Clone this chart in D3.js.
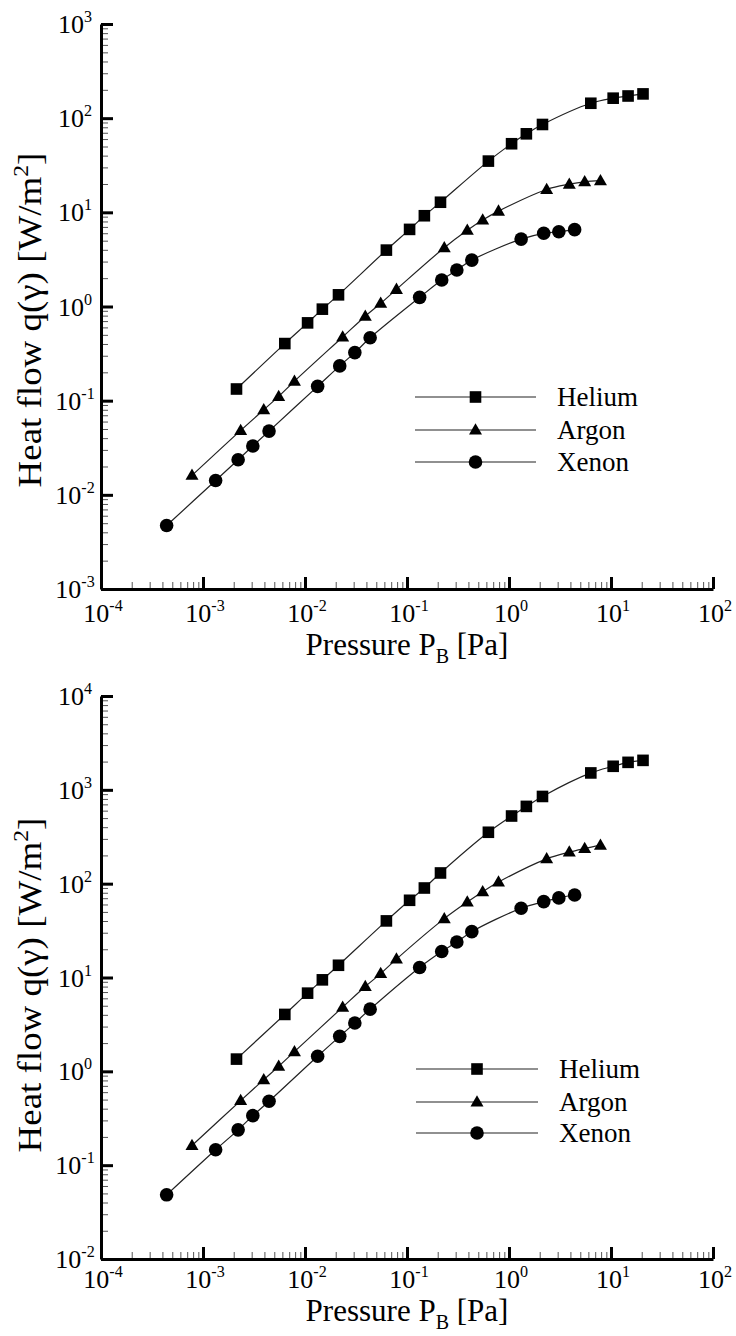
<!DOCTYPE html>
<html>
<head>
<meta charset="utf-8">
<script src="https://cdn.jsdelivr.net/npm/d3@7"></script>
<style>
  html, body { margin: 0; padding: 0; background: #fff; }
  svg { display: block; }
</style>
</head>
<body>
<svg id="chart" width="736" height="1336"></svg>
<script>
// Backing pressure P_B [Pa] for each gas
const pressureHelium = [0.00213, 0.00634, 0.0106, 0.0148, 0.0213, 0.0628, 0.106, 0.148, 0.213, 0.628, 1.06, 1.48, 2.13, 6.34, 10.5, 14.7, 20.6];
const pressureArgon  = [0.00078, 0.00234, 0.00394, 0.00552, 0.00788, 0.0234, 0.039, 0.0552, 0.0788, 0.232, 0.39, 0.552, 0.789, 2.34, 3.90, 5.52, 7.88];
const pressureXenon  = [0.00044, 0.00133, 0.00221, 0.00308, 0.00444, 0.0133, 0.0219, 0.0308, 0.0435, 0.133, 0.219, 0.308, 0.432, 1.315, 2.19, 3.08, 4.40];

// Heat flow q(γ) [W/m²], upper panel
const heliumUpper = [0.133, 0.404, 0.67, 0.937, 1.33, 3.97, 6.59, 9.2, 12.8, 35.0, 53.5, 68.2, 85.7, 144, 163, 172, 181];
const argonUpper  = [0.0161, 0.0483, 0.080, 0.111, 0.161, 0.475, 0.789, 1.08, 1.52, 4.21, 6.44, 8.28, 10.3, 17.5, 19.9, 21.1, 21.7];
const xenonUpper  = [0.00472, 0.0142, 0.0236, 0.033, 0.0475, 0.142, 0.234, 0.324, 0.465, 1.25, 1.91, 2.44, 3.11, 5.2, 5.99, 6.22, 6.55];

// Heat flow q(γ) [W/m²], lower panel
const heliumLower = [1.35, 4.04, 6.81, 9.44, 13.5, 40.1, 66.5, 89.9, 130, 353, 526, 666, 850, 1514, 1782, 1963, 2061];
const argonLower  = [0.162, 0.488, 0.815, 1.13, 1.62, 4.83, 8.02, 11.0, 15.7, 42.4, 63.8, 82.2, 104, 184, 217, 237, 257];
const xenonLower  = [0.0483, 0.146, 0.238, 0.337, 0.480, 1.45, 2.36, 3.27, 4.60, 12.8, 18.9, 23.9, 30.8, 54.7, 64.4, 70.5, 75.7];

const gasNames = ["Helium", "Argon", "Xenon"];
const gasMarkers = ["square", "triangle", "circle"];

// Tick exponents (labels are drawn as 10^n)
const xTickExponents = [-4, -3, -2, -1, 0, 1, 2];
const yTickExponentsUpper = [-3, -2, -1, 0, 1, 2, 3];
const yTickExponentsLower = [-2, -1, 0, 1, 2, 3, 4];

const xAxisTitle = "Pressure P";
const xAxisTitleSub = "B";
const xAxisTitleTail = " [Pa]";
const yAxisTitle = "Heat flow q(γ) [W/m";
const yAxisTitleSup = "2";
const yAxisTitleTail = "]";

const SERIF = "'Liberation Serif', 'DejaVu Serif', serif";

const svg = d3.select("#chart").attr("font-family", SERIF);

const panels = [
  {
    yExp: yTickExponentsUpper, yTop: 24, yBottom: 589,
    series: [heliumUpper, argonUpper, xenonUpper],
    tickLabelDy: 33, titleDy: 66, yTitleCenter: 320,
    legend: { x0: 415, x1: 536, rows: [397, 430, 462], textX: 557 }
  },
  {
    yExp: yTickExponentsLower, yTop: 696, yBottom: 1259,
    series: [heliumLower, argonLower, xenonLower],
    tickLabelDy: 29, titleDy: 62, yTitleCenter: 985,
    legend: { x0: 416, x1: 538, rows: [1069, 1102, 1133], textX: 559 }
  }
];
const pressures = [pressureHelium, pressureArgon, pressureXenon];

function minorValues(expMin, expMax) {
  const out = [];
  for (let e = expMin; e < expMax; e++) {
    for (let k = 2; k <= 9; k++) out.push(k * Math.pow(10, e));
  }
  return out;
}

function drawMarker(g, type, x, y) {
  if (type === "square") {
    g.append("rect").attr("x", x - 5.8).attr("y", y - 5.8)
      .attr("width", 11.6).attr("height", 11.6).attr("fill", "#000");
  } else if (type === "triangle") {
    const s = 13, h = s * Math.sqrt(3) / 2;
    g.append("path")
      .attr("d", `M${x},${y - h * 0.6}L${x + s / 2},${y + h * 0.4}L${x - s / 2},${y + h * 0.4}Z`)
      .attr("fill", "#000");
  } else {
    g.append("circle").attr("cx", x).attr("cy", y).attr("r", 6.8).attr("fill", "#000");
  }
}

function sciLabel(sel, exp, fontSize) {
  sel.append("tspan").text("10");
  sel.append("tspan").attr("dy", -fontSize * 0.42).attr("font-size", fontSize * 0.62).text(String(exp));
}

function addText(g) {
  return g.append("text").attr("font-family", SERIF).attr("fill", "#000");
}

const TICK_FONT = 26;

panels.forEach(p => {
  const x = d3.scaleLog().domain([1e-4, 1e2]).range([101, 713]);
  const y = d3.scaleLog()
    .domain([Math.pow(10, p.yExp[0]), Math.pow(10, p.yExp[p.yExp.length - 1])])
    .range([p.yBottom, p.yTop]);

  const g = svg.append("g");

  // minor ticks
  g.append("g").attr("transform", `translate(0,${p.yBottom})`)
    .call(d3.axisBottom(x).tickValues(minorValues(-4, 2)).tickSize(-7).tickSizeOuter(0).tickFormat(""))
    .call(a => a.select(".domain").remove())
    .call(a => a.selectAll("line").attr("stroke", "#555").attr("stroke-width", 1));
  g.append("g").attr("transform", "translate(101,0)")
    .call(d3.axisLeft(y).tickValues(minorValues(p.yExp[0], p.yExp[p.yExp.length - 1])).tickSize(-7).tickSizeOuter(0).tickFormat(""))
    .call(a => a.select(".domain").remove())
    .call(a => a.selectAll("line").attr("stroke", "#555").attr("stroke-width", 1));

  // major ticks and axis lines
  g.append("g").attr("transform", `translate(0,${p.yBottom})`)
    .call(d3.axisBottom(x).tickValues(xTickExponents.map(e => Math.pow(10, e))).tickSize(-12).tickSizeOuter(0).tickFormat(""))
    .call(a => a.select(".domain").attr("stroke", "#000").attr("stroke-width", 3))
    .call(a => a.selectAll("line").attr("stroke", "#000").attr("stroke-width", 3));
  g.append("g").attr("transform", "translate(101,0)")
    .call(d3.axisLeft(y).tickValues(p.yExp.map(e => Math.pow(10, e))).tickSize(-12).tickSizeOuter(0).tickFormat(""))
    .call(a => a.select(".domain").attr("stroke", "#000").attr("stroke-width", 3))
    .call(a => a.selectAll("line").attr("stroke", "#000").attr("stroke-width", 3));

  // tick labels
  xTickExponents.forEach(e => {
    const t = addText(g)
      .attr("x", x(Math.pow(10, e)) + 2).attr("y", p.yBottom + p.tickLabelDy)
      .attr("text-anchor", "middle").attr("font-size", TICK_FONT);
    sciLabel(t, e, TICK_FONT);
  });
  p.yExp.forEach(e => {
    const t = addText(g)
      .attr("x", 75).attr("y", y(Math.pow(10, e)) + 9)
      .attr("text-anchor", "middle").attr("font-size", TICK_FONT);
    sciLabel(t, e, TICK_FONT);
  });

  // axis titles
  const xt = addText(g).attr("x", 407).attr("y", p.yBottom + p.titleDy)
    .attr("text-anchor", "middle").attr("font-size", 31);
  xt.append("tspan").text(xAxisTitle);
  xt.append("tspan").attr("dy", 8).attr("font-size", 20).text(xAxisTitleSub);
  xt.append("tspan").attr("dy", -8).text(xAxisTitleTail);

  const yt = addText(g).attr("transform", `translate(41,${p.yTitleCenter}) rotate(-90) scale(1.12,1)`)
    .attr("text-anchor", "middle").attr("font-size", 33);
  yt.append("tspan").text(yAxisTitle);
  yt.append("tspan").attr("dy", -13).attr("font-size", 21).text(yAxisTitleSup);
  yt.append("tspan").attr("dy", 13).text(yAxisTitleTail);

  // curves and markers
  const line = d3.line().x(d => x(d[0])).y(d => y(d[1])).curve(d3.curveCatmullRom.alpha(0.5));
  p.series.forEach((vals, i) => {
    const pts = pressures[i].map((px, j) => [px, vals[j]]);
    g.append("path").datum(pts).attr("d", line)
      .attr("fill", "none").attr("stroke", "#222").attr("stroke-width", 1.2);
    const mg = g.append("g");
    pts.forEach(d => drawMarker(mg, gasMarkers[i], x(d[0]), y(d[1])));
  });

  // legend
  const L = p.legend;
  gasNames.forEach((name, i) => {
    const ry = L.rows[i];
    g.append("line").attr("x1", L.x0).attr("x2", L.x1).attr("y1", ry).attr("y2", ry)
      .attr("stroke", "#222").attr("stroke-width", 1.2);
    drawMarker(g, gasMarkers[i], (L.x0 + L.x1) / 2, ry);
    addText(g).attr("x", L.textX).attr("y", ry + 9).attr("font-size", 27).text(name);
  });
});
</script>
</body>
</html>
